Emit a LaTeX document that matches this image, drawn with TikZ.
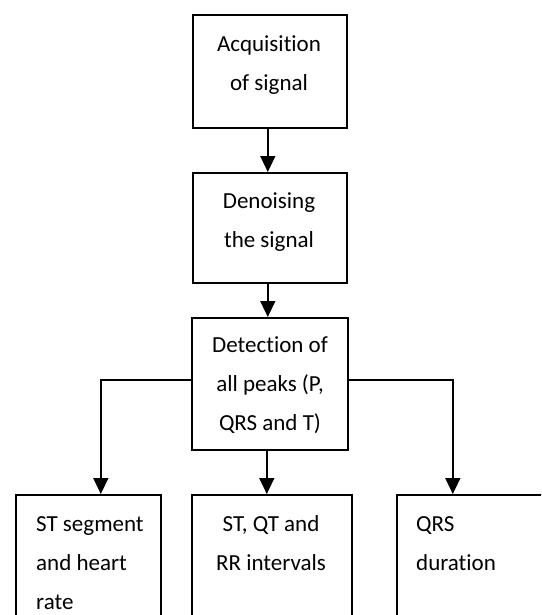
\documentclass[tikz,border=0pt]{standalone}
\usepackage{fontspec}
\setmainfont{Carlito}[Ligatures=NoCommon]
\usetikzlibrary{arrows.meta}
\tikzset{
  box/.style={draw=black, line width=1.6pt, rectangle, inner sep=0pt, anchor=north west},
  txt/.style={inner sep=0pt, font=\fontsize{23}{39}\selectfont},
  arr/.style={draw=black, line width=1.6pt, -{Triangle[width=15pt,length=16pt]}}
}
\begin{document}
\begin{tikzpicture}[x=1pt,y=-1pt]
\useasboundingbox (0,0) rectangle (541,615);
\clip (0,0) rectangle (541,615);
\fill[white] (0,0) rectangle (541,615);
% boxes
\node[box, minimum width=154pt, minimum height=113pt] (b1) at (192,14) {};
\node[box, minimum width=154pt, minimum height=110pt] (b2) at (192,172) {};
\node[box, minimum width=156pt, minimum height=132pt] (b3) at (191,317) {};
\node[box, minimum width=145pt, minimum height=160pt] (b4) at (15,494) {};
\node[box, minimum width=160pt, minimum height=160pt] (b5) at (191,494) {};
\node[box, minimum width=200pt, minimum height=160pt] (b6) at (396,494) {};
% texts
\node[txt, anchor=base] (t1) at (269,52) {\begin{tabular}[t]{@{}c@{}}Acquisition\\of signal\end{tabular}};
\node[txt, anchor=base] (t2) at (269,208) {\begin{tabular}[t]{@{}c@{}}Denoising\\the signal\end{tabular}};
\node[txt, anchor=base] (t3) at (270,352) {\begin{tabular}[t]{@{}c@{}}Detection of\\all peaks (P,\\QRS and T)\end{tabular}};
\node[txt, anchor=base west] (t4) at (36,531) {\begin{tabular}[t]{@{}l@{}}ST segment\\and heart\\rate\end{tabular}};
\node[txt, anchor=base] (t5) at (271,531) {\begin{tabular}[t]{@{}c@{}}ST, QT and\\RR intervals\end{tabular}};
\node[txt, anchor=base west] (t6) at (416,531) {\begin{tabular}[t]{@{}l@{}}QRS\\duration\end{tabular}};
% connectors
\draw[arr] ([xshift=-2pt]b1.south) -- ([xshift=-2pt]b2.north);
\draw[arr] ([xshift=-2pt]b2.south) -- ([xshift=-2pt]b3.north);
\draw[arr] ([xshift=-3pt]b3.south) -- ([xshift=-5pt]b5.north);
\draw[arr] ([yshift=4pt]b3.west) -| ([xshift=12.5pt]b4.north);
\draw[arr] ([yshift=4pt]b3.east) -| ([xshift=-44pt]b6.north);
\end{tikzpicture}
\end{document}
